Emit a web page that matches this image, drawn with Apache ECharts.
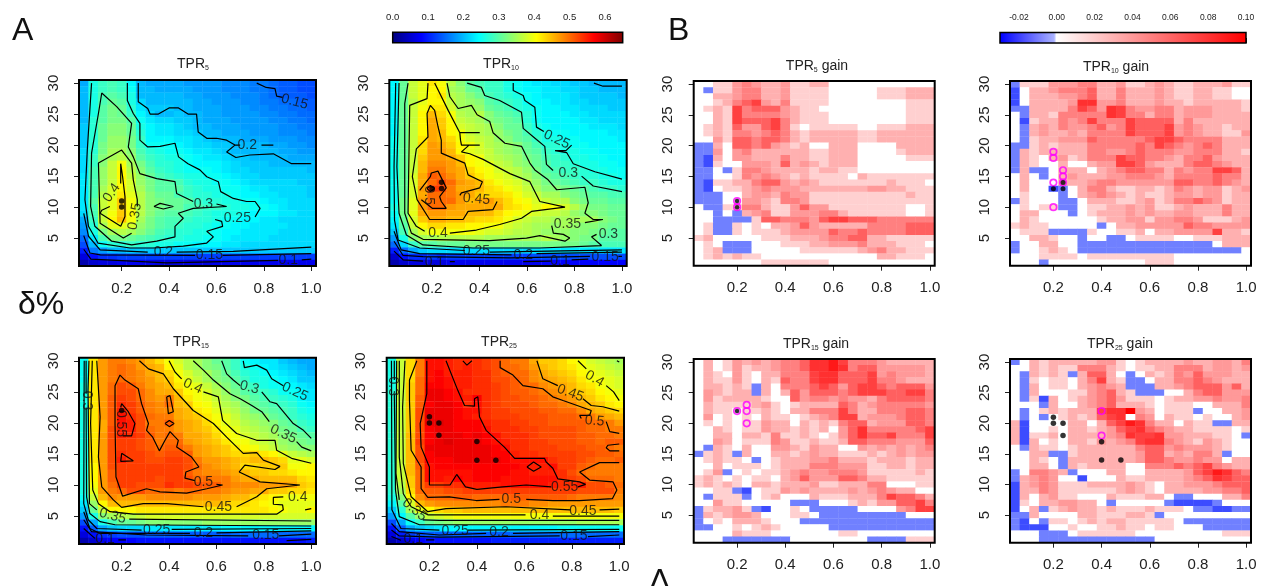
<!DOCTYPE html>
<html><head><meta charset="utf-8">
<style>html,body{margin:0;padding:0;background:#fff;overflow:hidden}#c{width:1265px;height:586px}</style>
<script src="https://cdn.jsdelivr.net/npm/echarts@6/dist/echarts.min.js"></script>
</head><body><div id="c"></div>
<script>
// Axis values
const deltaValues=[.04,.08,.12,.16,.2,.24,.28,.32,.36,.4,.44,.48,.52,.56,.6,.64,.68,.72,.76,.8,.84,.88,.92,.96,1];
const percentValues=[30,29,28,27,26,25,24,23,22,21,20,19,18,17,16,15,14,13,12,11,10,9,8,7,6,5,4,3,2,1];
const xTicks=[.2,.4,.6,.8,1];
const yTicks=[5,10,15,20,25,30];
const tprBarTicks=[0,.1,.2,.3,.4,.5,.6];
const gainBarTicks=[-.02,0,.02,.04,.06,.08,.1];
// TPR in percent, rows from percent 30 down to 1
const tpr5=[
[19,26,28,29,28,24,20,19,19,19,19,18,18,18,18,17,17,17,16,16,15,14,14,13,13],
[20,26,28,29,28,25,20,20,19,19,19,19,18,18,18,17,17,17,16,16,15,14,14,13,13],
[20,26,29,30,29,26,20,20,20,20,20,19,19,18,18,18,17,17,17,16,15,14,14,14,13],
[20,26,29,31,30,26,22,20,20,20,20,20,19,19,18,18,18,17,17,16,16,15,15,14,14],
[20,26,30,32,31,27,23,21,21,21,20,20,19,19,19,18,18,18,17,17,16,16,15,15,14],
[20,26,30,32,31,28,24,22,20,20,21,20,20,19,19,18,18,18,18,17,17,16,16,15,15],
[20,27,30,32,32,30,25,23,22,22,21,21,20,19,19,19,18,18,18,18,17,17,16,16,15],
[21,27,31,33,33,31,26,24,23,23,22,21,20,20,19,19,19,18,18,18,18,17,17,16,16],
[21,27,31,33,33,31,27,24,23,23,22,22,21,20,20,19,19,19,18,18,18,17,17,17,16],
[21,27,31,34,34,32,28,24,24,24,23,23,22,21,20,20,20,19,19,19,18,18,18,17,17],
[21,27,32,34,34,32,28,25,25,25,24,23,22,22,21,21,20,20,20,20,19,19,18,18,17],
[22,27,32,35,35,33,29,27,26,25,25,24,23,23,22,21,20,20,20,20,20,19,19,18,18],
[22,28,33,35,36,34,30,28,27,26,26,25,24,23,23,22,21,21,20,20,20,20,19,19,19],
[22,28,33,37,40,35,32,29,27,27,26,25,24,24,24,23,22,21,21,21,20,20,20,20,20],
[22,29,34,37,41,36,33,30,28,27,26,25,25,25,24,23,22,22,21,21,21,21,21,21,20],
[23,29,34,37,41,37,34,31,29,28,27,26,26,25,25,24,23,22,22,21,21,21,21,21,21],
[23,29,34,37,41,38,34,32,30,30,29,27,26,26,25,25,24,23,22,22,22,22,22,21,21],
[23,29,35,38,41,38,35,32,30,30,30,28,27,26,26,25,25,24,23,23,22,22,22,22,21],
[23,29,36,38,42,39,36,33,31,31,29,28,27,27,26,26,25,24,24,23,23,22,22,22,21],
[23,30,37,39,44,40,36,33,32,31,31,30,28,27,27,26,26,25,25,24,23,23,22,22,22],
[23,29,37,39,44,40,36,33,32,31,31,29,29,28,28,27,26,26,25,25,24,23,22,22,22],
[22,29,37,40,44,41,36,33,31,30,30,29,28,27,26,26,26,25,24,24,24,23,23,22,22],
[19,28,37,41,45,40,35,32,30,29,29,28,27,27,26,25,25,24,24,23,23,22,22,22,22],
[18,27,35,39,39,38,34,32,30,29,28,27,27,26,25,25,24,24,23,23,23,23,22,22,22],
[17,26,32,35,36,35,33,31,29,28,27,27,26,26,25,24,24,23,23,23,23,22,22,22,22],
[15,23,29,32,32,31,30,29,28,27,27,26,26,25,25,24,23,23,23,23,22,22,22,22,22],
[13,20,25,27,27,28,27,27,26,26,25,25,24,24,24,23,23,22,22,22,22,22,22,22,22],
[10,16,18,20,20,21,21,21,21,21,21,21,21,21,21,21,21,21,21,21,21,21,21,21,21],
[6,9,11,11,12,12,12,12,12,12,12,12,12,12,12,12,12,12,12,12,12,12,12,12,12],
[3,5,6,6,7,7,7,7,6,6,6,6,6,6,7,7,7,7,7,7,7,7,7,7,7]];
const tpr10=[
[24,31,37,39,42,40,36,33,30,29,28,28,26,25,24,23,23,22,22,21,21,20,20,20,20],
[24,31,37,39,41,41,35,34,31,30,28,28,26,25,24,24,23,23,22,22,21,21,20,20,20],
[24,31,37,39,41,42,36,35,33,31,29,28,27,26,25,24,23,23,23,22,21,21,21,21,20],
[24,31,36,39,41,41,37,35,34,33,30,29,28,27,25,24,24,23,23,22,22,21,21,21,21],
[24,31,37,40,42,42,38,35,35,34,31,30,29,27,26,25,24,24,23,23,22,22,22,21,21],
[24,31,37,41,45,43,40,36,35,36,33,31,30,29,27,25,24,24,24,23,23,22,22,22,22],
[24,31,37,41,46,44,41,37,36,35,33,32,31,30,27,25,24,24,24,24,23,23,22,22,22],
[24,31,37,41,46,44,41,38,37,36,35,33,31,31,28,26,25,24,24,24,24,23,23,23,22],
[24,31,37,41,46,45,41,40,37,36,35,34,32,31,29,27,26,25,25,24,24,24,24,23,23],
[25,31,37,42,46,45,43,40,38,37,36,34,33,31,30,28,26,26,25,25,24,24,24,24,23],
[25,31,37,43,47,46,44,41,40,38,36,35,34,33,31,29,27,27,26,25,25,24,24,24,24],
[25,31,37,43,47,47,45,41,39,38,37,35,34,33,31,30,28,27,26,26,25,25,24,24,24],
[25,31,37,44,47,47,46,44,41,40,37,36,35,34,32,31,29,28,27,26,26,25,25,24,24],
[25,31,37,45,48,48,47,45,41,40,39,37,36,34,33,31,30,28,28,27,26,26,25,25,24],
[25,31,37,45,49,49,47,46,43,41,40,38,37,36,34,32,30,29,28,28,27,26,26,25,25],
[25,31,38,46,51,50,48,46,44,42,40,39,38,36,35,33,31,30,29,28,27,27,26,26,25],
[25,31,38,46,50,52,50,47,46,45,42,40,39,38,36,34,32,31,30,29,28,28,27,26,26],
[25,31,38,47,53,53,49,46,46,45,43,42,40,39,37,35,33,33,32,31,30,29,28,28,27],
[25,31,38,46,50,50,49,47,46,44,43,43,42,40,38,37,35,35,33,32,31,30,30,29,29],
[25,32,39,47,50,50,50,47,45,46,47,45,43,41,40,38,37,36,36,33,32,31,31,30,30],
[26,32,39,47,50,50,47,46,46,46,46,46,43,42,41,39,41,40,38,36,34,32,32,31,31],
[25,32,39,46,47,47,46,46,45,45,45,43,41,40,39,38,37,37,36,34,33,33,32,31,31],
[24,31,38,44,46,46,45,45,44,43,43,42,40,38,37,36,36,35,35,35,35,35,33,32,31],
[23,30,37,41,43,43,42,42,41,41,40,40,38,37,36,35,35,34,35,34,33,33,32,31,31],
[21,29,35,38,40,40,40,40,40,39,38,38,37,36,36,35,34,34,34,33,33,32,31,30,30],
[18,26,33,35,35,36,36,36,36,36,35,35,35,35,35,35,36,35,34,33,32,32,30,30,30],
[15,22,28,30,30,31,31,31,32,32,32,32,32,32,32,32,32,32,32,32,31,30,29,29,29],
[10,15,19,21,22,22,22,22,22,22,22,22,22,22,22,23,23,23,23,23,23,23,23,23,23],
[5,9,11,11,12,11,12,12,12,12,12,12,12,12,12,13,13,13,13,13,13,13,13,13,13],
[3,5,6,6,6,6,7,7,7,7,7,7,7,7,7,7,8,8,8,8,8,8,8,8,8]];
const tpr15=[
[25,42,47,49,49,48,47,45,43,40,38,36,35,33,31,30,28,25,24,23,23,21,20,19,19],
[25,42,47,49,50,49,47,46,45,41,39,36,35,33,32,30,28,26,25,24,23,22,21,20,19],
[25,42,47,49,50,49,48,46,45,43,40,38,36,35,33,31,29,27,26,25,24,23,22,21,20],
[25,42,47,49,50,49,48,47,45,44,41,39,37,35,33,32,30,28,26,26,25,24,23,21,21],
[26,42,47,50,52,51,49,47,46,45,42,40,39,37,35,33,31,29,28,26,25,25,24,23,22],
[26,42,47,50,52,52,50,48,46,46,44,41,40,38,36,34,32,30,29,28,27,25,25,24,23],
[26,42,47,51,53,52,50,48,47,49,45,42,40,39,37,35,33,32,30,29,28,27,26,24,23],
[26,42,47,51,54,53,51,49,48,50,45,44,41,40,38,36,35,33,31,30,29,28,27,25,24],
[26,42,47,51,55,53,51,49,48,48,46,45,42,41,39,37,36,34,32,31,30,29,28,26,25],
[26,42,47,51,56,54,52,50,49,49,46,45,44,42,40,39,37,35,34,33,31,30,28,27,26],
[26,42,46,51,56,55,52,49,49,51,47,46,45,43,41,39,38,36,35,34,33,31,30,28,27],
[26,42,46,52,55,55,52,50,49,49,47,46,45,44,42,40,39,37,36,35,34,32,31,29,28],
[26,42,47,52,55,54,53,51,49,50,49,46,46,45,43,41,40,38,37,36,35,33,32,31,30],
[26,42,47,52,53,53,52,51,49,50,50,47,46,45,44,42,40,40,38,37,36,34,33,32,31],
[26,42,47,52,53,53,52,51,50,51,51,49,47,46,45,44,42,41,40,38,37,35,34,33,33],
[26,42,47,52,54,53,53,52,51,52,52,51,47,46,45,44,43,43,44,42,41,39,37,36,35],
[26,42,47,52,55,53,53,52,52,53,53,52,49,47,47,46,45,44,45,45,44,43,39,39,38],
[26,41,47,52,53,53,53,53,53,53,53,52,50,48,47,46,45,43,43,44,44,44,40,40,41],
[26,41,47,51,53,53,53,53,53,53,53,51,49,48,48,47,46,45,44,44,43,43,42,41,41],
[26,41,47,51,53,53,53,53,52,53,53,52,50,50,49,49,47,46,46,45,45,45,45,43,42],
[26,40,47,50,53,53,52,52,52,54,53,53,52,51,51,49,48,48,48,47,47,47,46,44,43],
[26,39,47,49,50,52,52,50,50,50,49,50,50,49,49,48,47,47,46,46,44,44,43,43,42],
[25,37,45,48,47,47,47,48,48,48,48,48,47,47,47,46,45,45,43,42,41,40,39,40,40],
[23,34,41,45,45,45,45,45,45,45,45,45,45,45,45,44,43,43,42,41,40,39,39,39,39],
[21,31,37,41,41,41,42,42,42,42,42,42,42,42,42,42,42,42,42,42,41,40,39,39,41],
[18,26,33,35,36,36,37,38,38,38,38,38,38,38,38,38,38,38,38,38,38,38,38,38,38],
[13,19,26,29,31,31,32,33,33,33,33,33,33,34,34,34,34,34,34,34,34,34,34,34,34],
[9,14,19,21,22,22,22,23,23,23,23,23,23,23,23,24,24,24,24,24,24,24,24,24,24],
[6,9,11,12,13,13,13,14,14,14,14,14,14,14,14,14,15,15,15,15,15,15,15,15,15],
[3,5,7,8,8,8,9,9,9,9,9,9,9,9,9,9,9,9,9,9,9,9,9,9,10]];
const tpr25=[
[26,37,43,49,56,56,55,54,54,54,53,52,50,49,49,46,44,44,43,41,40,38,37,36,35],
[26,37,43,49,56,56,55,54,55,54,53,52,50,50,49,47,45,44,43,42,40,39,38,37,36],
[26,37,43,49,56,57,55,55,55,54,54,52,51,50,50,48,46,45,44,43,41,40,39,38,37],
[26,37,43,50,56,57,56,55,55,54,54,52,52,51,50,48,47,46,45,44,42,40,40,39,38],
[26,37,44,50,57,57,56,55,55,54,54,53,52,51,50,50,48,47,46,45,43,42,40,39,38],
[27,37,44,50,58,58,57,56,54,54,54,53,52,51,51,50,49,48,47,45,44,43,41,40,39],
[27,37,44,51,58,58,57,56,55,57,54,53,52,52,51,51,50,49,48,47,45,44,42,41,40],
[27,37,44,51,57,58,58,57,54,56,54,53,52,52,52,51,50,50,49,48,46,45,44,42,41],
[27,37,44,52,58,58,58,57,56,56,54,53,53,52,52,52,51,51,50,50,48,46,45,44,43],
[27,37,44,52,58,58,58,57,56,55,54,53,53,53,52,52,52,51,51,51,50,49,47,46,45],
[27,37,44,52,58,59,58,57,57,57,55,54,54,53,53,52,52,51,51,51,51,50,50,49,47],
[27,37,44,52,57,58,58,57,57,57,56,54,54,54,53,53,52,52,52,52,51,50,50,49,49],
[27,37,45,52,57,58,58,58,57,58,57,56,54,54,54,53,52,52,52,52,51,51,50,50,49],
[27,37,45,53,57,58,59,58,58,58,57,56,55,54,54,53,53,52,52,52,51,51,50,51,51],
[27,37,45,52,58,58,58,58,58,58,58,57,56,54,54,53,53,53,52,52,52,51,51,50,49],
[27,37,45,52,57,58,58,58,58,58,58,57,57,55,54,54,53,53,53,53,52,52,51,51,50],
[27,37,45,52,57,57,57,58,58,58,58,58,57,56,56,56,56,54,53,53,52,51,50,50,51],
[27,37,45,51,56,57,57,57,57,57,57,57,57,57,56,55,55,56,53,53,51,50,49,49,49],
[27,37,45,50,56,56,56,56,56,57,57,57,57,56,56,55,55,55,54,52,50,49,49,49,49],
[27,37,44,50,56,56,55,57,56,57,57,57,56,56,56,56,56,56,54,53,52,50,50,50,49],
[27,36,44,50,53,53,54,54,55,55,55,55,56,56,56,56,56,55,54,54,55,52,52,51,50],
[27,35,43,50,51,51,52,52,53,53,53,53,53,53,53,53,53,53,53,53,52,52,52,52,49],
[26,33,41,48,50,50,50,51,51,50,50,50,50,51,51,51,51,51,51,50,49,49,49,49,48],
[24,30,38,45,47,48,48,48,48,48,48,48,49,49,49,48,48,47,47,47,47,47,47,47,47],
[21,27,35,39,41,43,44,44,45,45,45,45,45,45,45,45,45,45,45,45,45,45,45,45,44],
[18,24,30,34,37,38,39,40,40,40,40,40,40,40,40,40,40,40,40,40,40,40,40,40,40],
[13,19,25,28,31,32,33,34,34,34,34,34,34,34,34,34,34,34,34,34,35,35,35,35,35],
[9,14,19,21,22,23,24,24,24,24,24,24,24,24,24,24,24,24,25,25,25,25,25,25,25],
[6,10,12,13,14,14,14,14,14,14,14,14,14,15,15,15,15,15,15,15,15,15,15,15,15],
[3,5,7,8,9,9,9,9,9,9,9,10,10,10,10,10,10,10,10,10,10,10,10,10,10]];
// TPR gain in hundredths, rows from percent 30 down to 1
const gain5=[
[0,0,2,2,4,5,4,3,3,4,2,2,3,3,0,0,0,0,0,0,0,0,0,0,0],
[0,-1,2,2,4,5,5,3,3,4,2,2,2,2,0,0,0,0,0,2,2,2,3,3,3],
[0,0,3,3,4,5,5,3,3,4,2,2,2,2,0,0,0,0,0,2,2,2,3,3,3],
[0,0,2,3,5,6,7,4,3,5,2,2,2,2,0,0,0,0,0,0,0,0,2,2,2],
[0,2,3,2,7,5,6,6,6,4,3,2,2,0,0,0,0,0,0,0,0,0,2,2,2],
[0,0,3,2,7,5,5,5,5,4,3,2,2,2,0,0,0,0,0,0,0,0,2,2,2],
[0,0,3,2,7,6,6,6,7,5,3,2,2,2,0,0,0,0,0,0,0,0,2,2,2],
[0,2,3,2,6,4,4,6,7,5,2,0,2,2,2,2,2,0,0,2,2,2,3,3,3],
[0,2,3,2,5,5,4,5,6,5,3,2,3,3,3,3,3,2,2,3,3,3,3,3,3],
[0,0,4,2,6,6,5,6,6,5,3,2,3,3,3,3,3,2,2,3,3,3,3,3,3],
[-1,-1,3,0,6,6,5,6,4,3,2,3,0,0,3,3,3,0,0,0,0,3,3,3,3],
[-1,-1,4,0,4,5,3,3,3,3,3,3,2,2,3,3,3,0,0,0,0,2,3,3,3],
[-1,-2,3,0,4,4,3,3,3,5,3,3,2,2,3,3,3,0,0,0,0,0,2,2,2],
[-1,-2,2,0,0,4,4,4,3,6,3,4,3,2,3,3,3,0,0,0,0,0,0,0,0],
[-1,-1,0,-1,2,5,5,4,3,3,3,3,2,3,3,2,2,0,0,0,0,0,0,0,0],
[-1,-1,0,0,2,5,4,5,4,3,2,3,2,2,2,2,0,3,2,2,2,2,2,2,2],
[-1,-2,2,2,3,3,5,6,6,4,3,4,3,2,2,2,2,2,2,2,3,2,2,2,0],
[-1,-2,0,2,2,3,4,5,4,4,4,3,3,3,3,3,3,3,4,4,3,3,2,2,2],
[-1,-1,-1,0,0,3,4,4,3,5,4,4,2,2,2,2,2,2,2,2,2,2,3,2,2],
[-1,-1,-1,0,0,4,4,3,2,5,5,4,2,2,2,2,2,2,2,2,2,2,2,2,2],
[0,-1,-1,2,2,5,5,3,2,2,4,6,4,4,2,2,2,2,2,2,2,2,0,0,2],
[0,0,-1,0,-1,3,4,5,2,2,4,4,4,5,5,3,2,2,2,2,2,2,0,0,2],
[0,0,-1,-1,-1,-1,2,6,6,5,5,5,4,6,7,7,6,6,6,5,5,5,5,5,5],
[0,2,-1,-1,2,0,2,0,3,3,4,6,4,3,3,3,3,3,5,5,5,5,6,6,6],
[0,2,-1,-1,2,0,2,2,2,3,4,4,4,4,6,5,5,6,5,5,5,5,6,6,6],
[2,3,0,0,0,0,0,2,2,2,3,3,3,4,5,5,6,6,3,3,2,2,2,2,2],
[0,2,0,-1,-1,-1,0,0,0,2,2,2,3,3,4,4,4,5,3,3,3,2,2,2,0],
[0,2,3,-1,-1,-1,0,0,0,0,0,2,2,2,2,2,2,3,4,5,3,3,2,2,2],
[0,2,3,2,3,2,2,0,0,0,0,0,0,0,0,0,0,0,0,3,3,2,2,2,0],
[0,0,0,0,0,0,0,2,2,2,2,2,2,2,0,0,0,0,0,0,0,0,0,0,0]];
const gain10=[
[-1,2,2,2,4,4,4,5,5,3,3,4,2,2,3,4,3,2,2,3,3,3,4,2,2],
[-2,0,3,3,4,5,5,5,6,3,3,5,3,3,3,4,3,2,2,3,3,2,2,0,0],
[-2,0,3,3,3,4,4,5,6,3,3,5,3,3,3,4,3,2,2,3,3,2,2,0,0],
[-2,0,3,3,3,3,4,8,8,4,4,5,3,3,3,4,3,3,2,3,3,3,3,3,2],
[-1,-1,3,3,3,3,5,7,6,4,8,7,5,4,4,5,5,3,4,4,4,3,3,3,2],
[0,-1,3,3,2,5,5,5,5,5,8,7,5,5,3,5,5,3,4,4,4,3,3,3,3],
[0,-2,2,3,3,5,4,5,7,5,5,5,7,6,6,6,6,3,5,3,3,3,3,3,3],
[0,-1,3,4,3,5,4,4,5,6,4,5,7,6,6,6,7,4,5,4,3,3,2,3,3],
[0,-1,3,4,3,3,4,3,5,5,5,5,7,6,6,6,7,4,5,4,3,3,2,2,4],
[0,-1,2,3,3,4,4,4,6,5,5,5,5,5,6,7,7,6,5,5,5,5,3,3,3],
[-1,-1,2,3,2,3,3,3,5,5,5,5,5,6,5,7,6,5,4,5,6,5,3,3,3],
[-1,3,2,3,3,3,3,3,5,5,4,4,5,6,5,5,5,4,4,5,5,5,3,3,2],
[-1,3,2,0,3,4,2,3,5,5,5,7,6,6,5,5,4,3,5,5,6,4,3,3,3],
[-1,3,2,0,0,3,0,0,3,4,4,7,7,6,4,3,3,3,5,6,6,5,4,3,3],
[-1,3,-1,-1,0,3,3,3,0,3,4,5,6,6,5,5,3,5,4,5,5,7,7,6,3],
[0,3,0,-1,0,3,4,3,3,3,4,4,5,5,5,4,3,5,5,5,5,6,5,5,3],
[0,3,0,0,0,3,3,3,4,5,5,4,4,4,4,4,4,6,6,5,5,6,5,4,3],
[0,3,0,0,-2,-1,0,3,5,5,3,2,2,3,3,2,3,5,4,3,4,4,2,3,4],
[0,2,0,0,0,-1,0,3,4,5,4,3,2,3,2,2,3,4,4,3,4,4,2,3,3],
[-1,2,0,0,0,-1,-1,0,3,3,3,2,2,3,4,2,3,5,5,6,5,4,2,3,3],
[0,2,0,2,2,-1,-1,0,2,2,3,3,4,3,4,2,2,3,4,3,3,3,5,3,3],
[0,3,3,0,0,0,-1,0,2,3,3,3,4,3,4,3,3,4,4,3,3,3,5,3,3],
[0,3,2,0,0,0,0,0,0,2,3,3,4,4,2,4,4,5,5,4,2,2,2,3,4],
[2,3,2,2,0,0,0,0,0,-1,0,3,3,4,4,4,4,4,6,5,5,4,4,4,4],
[0,2,2,2,-1,-1,-1,-1,2,0,0,2,2,3,0,3,3,4,4,4,4,7,3,3,2],
[0,0,3,3,2,0,0,-1,0,0,-1,-1,0,2,2,2,2,0,0,2,2,2,3,3,3],
[-1,0,0,3,3,0,0,-1,-1,-1,-1,-1,-1,-1,-1,-1,-1,-1,-1,-1,-1,0,3,3,3],
[-1,0,0,2,3,2,0,-1,-1,-1,-1,-1,-1,-1,-1,-1,-1,-1,-1,-1,-1,-1,-1,-1,0],
[0,0,0,2,2,2,2,0,2,2,2,2,2,2,2,2,2,0,0,0,0,0,0,0,0],
[0,0,0,-1,0,0,0,0,0,0,0,0,0,0,2,2,2,0,0,0,0,0,0,0,0]];
const gain15=[
[0,3,0,2,4,3,4,3,4,5,5,6,8,8,9,7,5,5,5,4,3,3,3,3,3],
[0,3,0,2,4,2,3,3,4,5,5,6,8,8,9,8,5,6,6,4,4,4,4,4,3],
[0,3,2,0,4,2,0,3,3,5,5,5,7,8,8,6,6,6,7,4,5,4,4,4,3],
[0,3,2,2,4,2,0,3,2,6,5,5,7,8,8,6,6,6,7,5,5,4,3,3,3],
[0,3,3,2,3,2,-1,3,0,5,5,5,6,7,6,4,6,7,7,6,5,6,6,6,4],
[0,4,3,2,3,3,-1,3,0,3,6,4,6,6,6,5,6,7,7,7,6,6,7,7,5],
[0,4,2,3,3,3,3,2,0,0,6,4,5,5,4,5,4,4,3,5,6,6,6,6,5],
[0,3,2,2,2,2,3,4,2,0,2,3,3,3,3,6,5,3,4,5,5,5,5,5,4],
[0,3,2,2,0,2,2,3,2,0,3,3,5,5,5,7,5,3,3,5,5,5,6,6,5],
[0,4,0,2,0,2,0,3,2,2,0,2,3,4,5,7,7,3,4,4,4,5,6,6,5],
[0,2,0,2,0,2,2,4,3,3,0,3,2,3,2,5,6,6,3,4,4,4,6,6,5],
[0,0,3,2,0,2,2,4,3,3,2,3,2,3,0,4,6,8,5,5,5,5,5,6,7],
[0,0,3,3,0,3,3,2,5,2,2,3,2,0,2,4,6,8,6,6,7,5,5,5,7],
[0,0,4,3,0,2,2,2,5,4,2,2,3,2,2,3,6,6,5,5,5,4,4,4,6],
[0,-1,3,2,0,3,0,0,4,4,3,2,4,3,3,0,0,4,3,4,3,4,3,4,5],
[-1,2,3,2,-1,3,0,0,3,3,2,3,4,3,3,2,2,2,3,2,3,4,3,4,4],
[0,2,3,2,2,0,-1,0,2,3,3,3,4,4,5,3,3,3,2,3,3,3,2,3,3],
[0,0,3,0,2,2,2,0,2,3,3,3,5,5,5,4,4,4,2,2,3,3,2,3,3],
[0,2,4,-1,0,2,0,2,2,3,4,5,4,4,5,5,5,4,2,2,2,2,2,3,2],
[2,3,2,0,2,0,2,2,0,3,4,6,4,4,4,6,6,5,3,3,2,2,2,2,2],
[2,3,2,3,2,0,3,3,2,3,3,3,4,2,2,3,3,3,5,5,0,0,0,2,2],
[0,0,2,2,-1,-2,0,2,2,4,3,4,3,3,3,3,4,3,4,5,4,3,3,0,0],
[0,-1,2,2,2,-1,0,2,3,0,0,0,3,2,2,2,3,3,3,5,7,6,6,5,3],
[0,0,4,2,2,0,0,0,0,0,-1,-1,-1,0,0,0,2,3,2,4,4,6,6,7,5],
[-1,2,3,3,4,2,-1,-2,0,0,2,0,-1,-1,-1,-1,-1,0,0,0,0,4,5,7,7],
[-1,3,2,3,4,4,3,0,0,0,2,2,0,-1,-1,-1,-1,-1,-1,-1,-1,-1,0,0,0],
[-1,0,2,0,3,3,3,2,0,0,0,-1,-1,-1,-1,-1,-1,-1,-1,-1,-1,-1,-1,-1,-1],
[-1,-1,0,0,2,0,2,3,2,0,0,0,0,0,-1,-1,-1,-1,-1,-1,-1,-1,-1,-1,-1],
[0,0,0,0,3,2,2,2,0,0,0,0,0,0,0,2,2,0,0,0,0,0,0,0,0],
[0,0,0,-1,-1,-1,-1,-1,-1,-1,0,0,0,0,0,0,0,0,-1,-1,-1,-1,2,2,2]];
const gain25=[
[-1,0,3,2,3,3,3,3,3,4,4,2,0,2,3,3,3,3,4,3,3,4,4,3,5],
[0,0,3,2,3,2,2,5,5,5,3,2,0,2,2,3,3,5,5,5,3,4,4,3,4],
[0,-1,3,2,3,2,-1,3,6,6,3,0,-1,0,3,2,3,5,4,6,4,4,4,3,3],
[0,-1,2,0,2,2,0,3,5,7,3,2,-1,-1,0,3,3,5,5,6,5,4,3,3,3],
[0,-1,3,0,2,2,0,3,4,5,4,3,-1,-1,-1,3,3,4,5,6,6,6,4,6,3],
[0,-1,3,0,0,0,2,2,4,5,6,3,2,-1,-1,-1,0,0,3,5,6,6,4,4,4],
[0,-1,2,-2,3,0,2,3,4,5,6,4,2,2,2,0,2,3,3,4,4,5,4,4,5],
[0,0,0,-1,3,0,0,3,4,5,6,3,3,3,2,0,2,2,2,0,0,3,3,3,5],
[0,-1,0,2,3,2,3,3,3,7,8,8,10,4,3,0,2,2,2,-1,0,0,3,3,4],
[0,-1,0,-1,0,2,3,2,3,6,7,8,0,5,4,0,3,2,2,0,2,0,0,3,4],
[3,-2,0,0,0,0,3,3,0,3,6,7,9,8,5,3,3,0,3,2,2,-1,-1,3,3],
[3,-2,0,0,2,0,3,3,2,3,4,6,7,8,6,5,4,3,3,2,2,2,2,0,2],
[3,-2,2,2,3,0,3,3,3,3,4,5,8,7,7,8,4,4,3,3,3,2,2,0,-1],
[3,-2,3,0,2,0,3,3,2,4,3,4,5,7,8,8,5,4,3,2,4,3,2,0,0],
[0,-1,3,2,2,0,2,3,3,3,3,3,3,5,6,6,4,5,4,4,4,3,2,0,0],
[0,0,3,3,-1,-1,2,3,3,3,3,3,3,4,6,6,3,4,3,5,5,3,-1,0,0],
[0,0,3,2,0,-1,3,3,3,3,3,3,3,4,6,6,5,4,4,5,4,4,0,3,3],
[0,0,3,3,0,-1,3,2,3,3,3,3,0,0,5,5,5,6,5,6,7,5,4,3,3],
[-1,0,5,5,4,3,-1,0,0,0,3,3,0,0,3,3,3,3,4,6,7,9,8,6,5],
[-1,3,4,5,4,0,0,-2,0,0,0,3,2,2,3,3,3,3,4,5,6,8,7,6,6],
[-2,3,4,5,4,2,2,2,3,3,3,3,4,3,2,0,3,3,4,4,4,5,6,6,6],
[-2,3,3,5,4,2,2,2,2,2,2,3,4,3,2,0,3,3,3,3,4,4,5,5,6],
[-2,3,0,3,4,2,2,0,0,0,3,2,2,2,3,3,0,-1,-1,0,0,0,3,3,5],
[-2,2,0,3,3,4,4,3,3,0,-1,0,0,0,0,0,-1,-2,-2,-2,-2,-1,0,0,0],
[-2,0,3,-1,2,3,4,3,3,2,3,2,2,2,3,2,2,2,0,-1,-1,-2,-2,-1,-1],
[-1,-1,3,0,0,0,0,3,3,2,2,2,3,3,2,-1,0,0,0,0,0,0,0,0,0],
[-1,-2,0,-1,2,2,0,2,3,2,3,3,2,2,2,2,2,0,-1,-1,-1,-1,-1,-1,-1],
[-1,-2,-2,-2,0,0,2,0,0,2,2,3,2,2,0,2,2,0,0,0,-1,-1,-1,-1,-1],
[0,0,0,-1,-1,-1,0,2,2,2,2,2,2,0,0,0,0,0,0,0,0,0,2,2,2],
[0,0,0,-1,-1,-1,-1,-1,-1,-1,-1,-1,-1,-1,-1,0,0,0,0,0,0,0,0,0,0]];
// Contour polylines as flat delta,percent pairs
const contoursA1=[
[.77,30,.81,29.3,.847,29.1,.854,27.9,.879,27.7],
[.27,30,.27,27,.31,25.9,.32,25,.355,25,.4,26,.44,26,.48,25,.516,25,.523,22.1,.559,21.1,.6,21.1,.643,20.8,.678,20,.7,20],
[.79,20,.84,20],
[.678,20,.643,18.9,.682,18,.741,18.4,.84,18.6,.917,17,1,17],
[.073,30,.055,19.2,.045,11.2,.06,6.9,.1,4.2,.235,3.4,.334,3.4,.46,3.7,.559,4.2,.587,5.2,.559,6.1,.626,6.9,.622,7.7,.594,8],
[.763,8.4,.784,9.8,.763,10.9,.727,10.9,.671,11.4,.618,12.5,.608,14.1,.559,14.9,.53,16,.48,17,.44,18.1,.425,20.3,.362,19.8,.31,19.7,.277,20.8,.277,23.5,.249,25.1,.224,27.2,.224,30],
[.502,10.9,.432,12.2,.425,14.1,.348,14.6,.277,15.4,.249,18.1,.228,19.7,.242,23.5,.179,26.2,.116,28.4,.102,25.1,.073,18.7,.069,10.1,.087,6.9,.158,4.5,.242,3.9,.348,4.5,.425,5.2,.425,6.9,.46,8.2,.439,9,.502,9.8,.643,10.1,.6,10.5],
[.336,10.1,.362,10.6,.418,10.1,.376,9.7,.336,10.1],
[.266,10.1,.266,11.2,.249,14.4,.242,17.1,.2,19.2,.102,17.1,.109,7.4,.207,5,.242,5.8],
[.196,13.8,.196,17,.204,17,.204,14.9,.214,11.7,.214,8.5,.196,6.9,.109,9,.116,9.5,.15,10.1],
[.04,9,.06,5.3,.109,3.1,.31,2.75],
[.432,2.75,.671,2.85,1,3.55],
[.04,5.4,.066,2.6,.11,2.3,.51,2.2],
[.626,2.2,1,2.5],
[.04,3.2,.07,1.6,.18,1.4,.39,1,.67,1.25,.86,1.4],
[.96,1.5,1,1.6]];
const labelsA1=[[.93,27,'0.15',-15],[.73,20,'0.2',0],[.545,10.5,'0.3',0],[.688,8.2,'0.25',0],[.256,8.5,'0.35',80],[.158,12.3,'0.4',55],[.376,2.75,'0.2',0],[.57,2.2,'0.15',0],[.903,1.4,'0.1',0]];
const contoursA2=[
[.882,30,.92,29.5,1,29.5],
[.542,30,.542,28.8,.584,28,.591,27.2,.633,26.1,.64,22.9,.671,22.2],
[.788,20,.764,19.1,.718,19.1,.767,18.8,.795,17,.886,15.7,1,14.5],
[.348,30,.408,29.3,.422,28,.485,27.2,.577,25.3,.584,22.7,.64,20.9,.675,19.8,.682,16.9,.71,15.9],
[.83,15,.879,13.4,1,12.5],
[.263,30,.275,27.8,.31,25.9,.366,26.4,.39,24.9,.443,23.8,.457,22,.507,20.3,.577,19.8,.612,17.1,.633,16,.689,14.4,.725,12.8,.844,13.2,.858,10.7,.844,9,.879,8,.92,8,.844,7.5],
[.704,7,.711,5.8,.753,5.6,.78,5,.76,4.5,.654,5.4,.598,5,.443,4.6,.162,4.8,.113,5.8,.085,9,.085,26.7,.099,30],
[.061,30,.052,16.5,.061,9,.092,5.5,.162,3.9,.373,3.4,.654,3.4,.914,3.8,.872,5.2,.893,5.6],
[.047,30,.04,16.5,.042,7.9,.057,4.7,.148,3.4,.338,3],
[.443,2.75,1,3.1],
[.04,6.1,.07,3.1,.148,2.5,.535,2.3],
[.64,2.5,1,2.75],
[.04,4.5,.078,2.2,.162,2,.528,1.8,.865,2.05],
[.985,2.05,1,2.05],
[.04,2.9,.078,1.5,.162,1.3],
[.275,1.2,.296,1.2],
[.584,1.2,.7,1.3],
[.788,1.5,.858,1.6],
[.183,30,.179,27.5,.106,26.4,.099,9,.134,6.9,.169,6.1],
[.275,5.8,.387,6.3,.485,7.2,.577,8.2,.619,9.3,.76,10,.654,10.9,.612,14.1,.528,15.4,.415,17.7,.359,18.6,.324,18.9,.356,20,.401,20,.324,20,.32,20.8,.317,22,.401,22,.317,22,.268,25.6,.211,30],
[.317,11.9,.324,12.3,.401,13.1,.412,14.1,.352,15.2,.338,17.1,.239,18.7,.239,20.8,.225,23,.211,25.6,.193,26.4,.179,25.1,.183,21.3,.134,19.4,.117,14.9,.137,11.2,.19,8,.331,8,.352,9.3,.457,9.6,.474,10.9],
[.148,12.7,.193,14.9,.197,15.5,.225,15.8,.26,13.1,.232,11.7,.239,10.9,.26,9.8,.201,9.8,.155,11.2],
[.179,13,.193,13.5,.211,13,.193,12.5,.179,13]];
const labelsA2=[[.725,20.9,'0.25',-25],[.774,15.4,'0.3',0],[.77,7.2,'0.35',0],[.943,5.6,'0.3',0],[.225,5.8,'0.4',0],[.387,11.3,'0.45',-5],[.187,11.9,'0.5',-90],[.387,2.85,'0.25',0],[.584,2.3,'0.2',0],[.929,1.95,'0.15',0],[.21,1.2,'0.1',0],[.739,1.3,'0.1',0]];
const contoursA3=[
[.713,30,.718,28.9,.77,29.3,.812,28.5,.833,27.1,.882,26],
[.622,30,.643,27.9,.671,26.9,.7,26],
[.791,25,.826,23.4,.854,23.1,.889,21.5,.924,19.9,.967,18.8,1,17.5],
[.502,30,.545,28.5,.587,26.9,.657,24.7,.7,23.9,.749,22.8,.791,21.8,.823,20.2],
[.938,17,.96,16.1,1,15.5],
[.4,30,.425,28.2,.453,27.1],
[.545,25,.608,24.2,.626,20.4,.685,18.3,.77,17.2,.847,17.2,.854,15.6,.917,14.3,1,13.5],
[.275,30,.313,28.7,.376,27.9,.418,25.5,.502,22,.587,19.9,.643,17.7,.713,15.1,.77,15.2,.798,14,.868,13,.847,12.5,.72,13.2,.696,12.1,.784,10.5,.952,10,.812,9.4,.77,8.1,.685,6.5],
[.545,6.5,.39,7,.291,7,.2,6.4,.165,7.6,.116,9.7,.102,14.5,.109,21,.095,30],
[.076,30,.069,19.9,.078,9.2,.102,7,.151,5.7,.249,5.3,.854,5.3,.882,6,.879,6.8,.84,6.9,.84,8,.882,8.1],
[.974,6,1,6.2,1,5.9,.974,6],
[.062,30,.058,25.2,.064,7,.095,6],
[.232,4.5,1,4.2],
[.05,30,.05,24.7],
[.05,22.5,.052,8.1,.066,5.4,.109,4.1,.172,3.6,1,3.4],
[.042,30,.04,7,.059,4.4,.095,3,.284,2.75],
[.411,2.85,1,3],
[.04,5.7,.066,3,.109,2.2,.488,2.2],
[.6,2.3,1,2.6],
[.04,4.4,.073,2.5,.305,1.95,.734,1.8],
[.864,1.8,1,2.1],
[.04,3,.087,1.4],
[.186,1.15,.218,1.15],
[.896,1.05,1,1.25],
[.6,10.1,.626,10,.559,9.4,.474,8.7,.362,8.9,.305,9.4,.204,8.2,.176,11.3,.172,19.9,.172,26,.193,27.7,.214,26.9,.27,25.5,.284,23.1,.313,19.9,.305,18.8,.331,17.7,.359,15.5,.383,17.2,.404,18.6,.439,17.2,.432,16.1,.495,14.5,.526,12.9,.471,12.1,.467,11.1,.509,10.7],
[.204,17.9,.242,17.9,.256,19.9,.228,21.8,.2,23.1,.196,22.5],
[.2,15.1,.249,13.9,.196,13.8,.2,15.1],
[.383,19.9,.401,20.4,.421,19.9,.401,19.4,.383,19.9],
[.39,24.2,.404,24.4,.418,21.8,.397,21.5,.39,24.2]];
const labelsA3=[[.931,25,'0.25',-25],[.739,25.7,'0.3',-15],[.882,18.2,'0.35',-25],[.5,25.9,'0.4',-25],[.608,6.5,'0.45',0],[.943,8,'0.4',0],[.162,5,'0.35',-15],[.055,23.6,'0.3',-90],[.197,19.9,'0.55',-90],[.545,10.4,'0.5',0],[.348,2.75,'0.25',0],[.545,2.3,'0.2',0],[.808,1.85,'0.15',0],[.13,1.25,'0.1',0]];
const contoursA4=[
[.99,30,1,29.8],
[.826,30,.861,28.7],
[.945,26,.976,25,1,23.6],
[.653,30,.678,27.1,.741,26],
[.847,23.9,.882,22.8,.931,22.6,1,21.9],
[.498,30,.498,28.9,.552,27.7,.594,26,.678,25.5,.72,24.2,.763,23.6,.882,22,.875,21.2,.833,21.2,.84,20.7],
[.945,20.2,.96,18.6,1,18.3],
[1,16.6,.952,16.4,.945,16,.96,15.5,1,15.5],
[1,13.6,.917,13.6,.833,12.1,.875,10.8,.974,10.5,.99,9.2,.971,7.8,.833,7.5,.72,7.5,.608,7.7],
[.495,7.7,.397,7.5,.284,8.1,.193,8,.165,9.4,.165,12.9,.123,15.6,.116,23.6,.116,26.9,.147,30],
[.189,30,.189,24.7,.161,19.9,.165,16.1,.2,12.9,.2,10,.287,10,.315,11.7,.352,9.7,.4,9.3,.509,9.7,.608,10,.713,9.7],
[.826,9.7,.858,10.1,.833,10.5,.741,11,.72,12.7,.692,13.7,.685,14.3,.559,14.3,.516,16.1,.439,18.8,.411,21,.404,24.2,.39,23.9,.39,22.7,.348,22.8,.32,25.2,.27,30],
[.341,30,.358,29.3,.379,30],
[.611,12.9,.639,13.7,.671,12.9,.639,12.2,.611,12.9],
[.097,30,.087,22.6,.09,13.5,.123,8.1,.193,5.7,.27,6.2,.523,6.5,.794,6],
[.917,6,1,6.1],
[.073,30,.073,14.5,.09,8.6,.123,6.5,.193,5.2,.284,5.2,.605,5.2],
[.72,5,1,5],
[.062,30,.059,11.9,.073,7.6],
[.172,4.4,.242,4.3,1,4.3],
[.052,30,.052,26.9],
[.052,24.7,.057,9.2,.073,4.9,.158,3.6,1,3.6],
[.04,30,.042,6,.08,3,.242,2.75],
[.362,2.75,1,2.85],
[.04,3.8,.073,2.5,.242,1.95,.439,2.2],
[.552,2.2,1,2.5],
[.04,2.75,.073,1.8,.242,1.6,.749,1.8],
[.868,1.7,1,1.95],
[.04,1.7,.08,1.1],
[.186,1.15,.221,1.15]];
const labelsA4=[[.896,27.1,'0.4',-30],[.794,24.8,'0.45',-20],[.896,20.3,'0.5',-5],[.77,9.6,'0.55',0],[.545,7.7,'0.5',0],[.847,5.8,'0.45',0],[.664,5.2,'0.4',0],[.137,6,'0.35',-40],[.048,25.9,'0.3',-90],[.308,2.65,'0.25',0],[.493,2.4,'0.2',0],[.809,1.7,'0.15',0],[.132,1.25,'0.1',0]];
// Highlighted parameter pairs
const blackA1=[[.2,11],[.2,10]];
const blackA2=[[.2,13],[.24,13],[.24,14]];
const blackA3=[[.2,22]];
const blackA4=[[.2,21],[.2,20],[.24,20],[.24,18],[.4,17],[.4,14],[.48,14]];
const pinkB1=[[.2,11],[.2,10]];
const pinkB2=[[.2,19],[.2,18],[.24,16],[.24,15],[.2,14],[.24,14],[.2,10]];
const pinkB3=[[.2,22],[.24,23],[.24,22],[.24,20]];
const pinkB4=[[.4,22],[.4,18]];

const FONT='"Liberation Sans",Arial,sans-serif';
const grids=[],xAxes=[],yAxes=[],series=[],titles=[];
const tprSeries=[],gainSeries=[];
const cellRender=(p,api)=>{
  const a=api.coord([api.value(0)-.02,api.value(1)+.5]),b=api.coord([api.value(0)+.02,api.value(1)-.5]);
  return {type:'rect',shape:{x:a[0],y:a[1],width:b[0]-a[0]+.4,height:b[1]-a[1]+.4},style:{fill:api.visual('color')}};
};
function addPanel(rect,rows,kind,contours,labels,black,pink,titleCfg,dotSize){
  const g=grids.length;
  grids.push({left:rect[0],top:rect[1],width:rect[2],height:rect[3],show:true,borderColor:'#000',borderWidth:2,backgroundColor:'transparent',z:10});
  xAxes.push({gridIndex:g,type:'value',min:.02,max:1.02,position:'bottom',axisLine:{show:false},splitLine:{show:false},
    axisTick:{show:true,length:5,lineStyle:{color:'#222',width:1},customValues:xTicks},
    axisLabel:{show:true,margin:15,fontFamily:FONT,fontSize:15,color:'#222',customValues:xTicks,formatter:v=>(+v).toFixed(1)}});
  yAxes.push({gridIndex:g,type:'value',min:.5,max:30.5,axisLine:{show:false},splitLine:{show:false},
    axisTick:{show:true,length:5,lineStyle:{color:'#222',width:1},customValues:yTicks},
    axisLabel:{show:true,rotate:90,margin:18,fontFamily:FONT,fontSize:15,color:'#222',customValues:yTicks,formatter:v=>String(+v)}});
  const data=[];
  rows.forEach((r,i)=>r.forEach((v,j)=>data.push([deltaValues[j],percentValues[i],v])));
  (kind==='tpr'?tprSeries:gainSeries).push(series.length);
  series.push({type:'custom',name:'TPR'+titleCfg[0],xAxisIndex:g,yAxisIndex:g,data,encode:{x:0,y:1},renderItem:cellRender,clip:true,silent:true,z:2});
  (contours||[]).forEach(c=>{
    const pts=[];for(let i=0;i<c.length;i+=2)pts.push([c[i],c[i+1]]);
    series.push({type:'line',xAxisIndex:g,yAxisIndex:g,data:pts,symbol:'none',silent:true,z:3,lineStyle:{color:'#000',width:1.2},clip:true});
  });
  if(labels)series.push({type:'scatter',xAxisIndex:g,yAxisIndex:g,silent:true,z:4,symbolSize:0,itemStyle:{color:'transparent'},
    data:labels.map(l=>({value:[l[0],l[1]],label:{show:true,position:'inside',formatter:l[2],rotate:l[3],fontFamily:FONT,fontSize:14,color:'#111'}}))});
  if(pink)series.push({type:'scatter',xAxisIndex:g,yAxisIndex:g,silent:true,z:5,symbolSize:6.5,data:pink,itemStyle:{color:'transparent',borderColor:'#ff00ff',borderWidth:1.7}});
  if(black)series.push({type:'scatter',xAxisIndex:g,yAxisIndex:g,silent:true,z:6,symbolSize:dotSize,data:black,itemStyle:{color:'#000'}});
  const rich={m:{fontFamily:FONT,fontSize:14,fontWeight:'normal',lineHeight:16,color:'#222'},s:{fontFamily:FONT,fontSize:7,fontWeight:'normal',lineHeight:16,verticalAlign:'bottom',color:'#222'}};
  titles.push({text:'{m|TPR}{s|'+titleCfg[0]+'}'+(titleCfg[3]?'{m| gain}':''),left:titleCfg[1],top:titleCfg[2],textAlign:'center',padding:0,textStyle:{fontWeight:'normal',rich}});
}
addPanel([79,80,237,186],tpr5,'tpr',contoursA1,labelsA1,blackA1,null,['5',193,56,false],5.5);
addPanel([389.3,80,237.4,186],tpr10,'tpr',contoursA2,labelsA2,blackA2,null,['10',501,56,false],5.5);
addPanel([79,357.7,237,186.3],tpr15,'tpr',contoursA3,labelsA3,blackA3,null,['15',191,334,false],5.5);
addPanel([386.7,357.7,237.3,186.3],tpr25,'tpr',contoursA4,labelsA4,blackA4,null,['25',499,334,false],5.5);
addPanel([693.7,81,241,184.7],gain5,'gain',null,null,pinkB1,pinkB1,['5',817,58,true],4.5);
addPanel([1010,81,241,184.7],gain10,'gain',null,null,blackA2,pinkB2,['10',1116,59,true],5);
addPanel([693.7,359,241,183.7],gain15,'gain',null,null,blackA3,pinkB3,['15',816,336,true],4.5);
addPanel([1010,359,241,183.7],gain25,'gain',null,null,blackA4,pinkB4,['25',1120,336,true],5.5);

function addBar(rect,min,max,ticks,fmt,size,stops){
  const g=grids.length;
  grids.push({left:rect[0],top:rect[1],width:rect[2],height:rect[3],show:true,borderColor:'#000',borderWidth:1.5,backgroundColor:'transparent',z:10});
  xAxes.push({gridIndex:g,type:'value',min,max,position:'top',axisLine:{show:false},splitLine:{show:false},
    axisTick:{show:true,length:5,lineStyle:{color:'#222',width:1},customValues:ticks},
    axisLabel:{show:true,margin:10,fontFamily:FONT,fontSize:size,color:'#222',customValues:ticks,formatter:fmt}});
  yAxes.push({gridIndex:g,type:'value',min:0,max:1,show:false});
  series.push({type:'custom',xAxisIndex:g,yAxisIndex:g,silent:true,data:[[min,max]],encode:{x:[0,1]},clip:true,z:2,
    renderItem:(p,api)=>{const a=api.coord([api.value(0),1]),b=api.coord([api.value(1),0]);
      return {type:'rect',shape:{x:a[0],y:a[1],width:b[0]-a[0],height:b[1]-a[1]},
        style:{fill:new echarts.graphic.LinearGradient(0,0,1,0,stops)}};}});
}
const jet=['#00007F','#0000FF','#007FFF','#00FFFF','#7FFF7F','#FFFF00','#FF7F00','#FF0000','#7F0000'];
addBar([392.7,32.3,230,10.5],0,.65,tprBarTicks,v=>(+v).toFixed(1),9.5,jet.map((c,i)=>({offset:i/8,color:c})));
addBar([1000,32.5,246,10.5],-.03,.1,gainBarTicks,v=>(+v).toFixed(2),8.5,[
  {offset:0,color:'#0000ff'},{offset:.22,color:'#aab2ff'},{offset:.2295,color:'#ffffff'},{offset:.385,color:'#ffcccc'},{offset:1,color:'#ff0000'}]);

[['A',12,15],['B',668,15],['δ%',18,289],['Δ',649,566]].forEach(t=>titles.push({text:t[0],left:t[1],top:t[2],padding:0,textStyle:{fontFamily:FONT,fontSize:32,fontWeight:'normal',color:'#111'}}));

const chart=echarts.init(document.getElementById('c'),null,{renderer:'canvas'});
chart.setOption({animation:false,backgroundColor:'#fff',title:titles,grid:grids,xAxis:xAxes,yAxis:yAxes,series,
  visualMap:[
   {type:'continuous',show:false,dimension:2,seriesIndex:tprSeries,min:0,max:65,inRange:{color:jet}},
   {type:'continuous',show:false,dimension:2,seriesIndex:gainSeries,min:-3,max:10,inRange:{color:['#0000ff','#3c4cff','#7080ff','#ffffff','#ffe8e8','#ffd0d0','#ffb0b0','#ff9999','#ff8080','#ff6060','#ff4040','#ff3030','#ff1818','#ff0000']}}]});
</script></body></html>
